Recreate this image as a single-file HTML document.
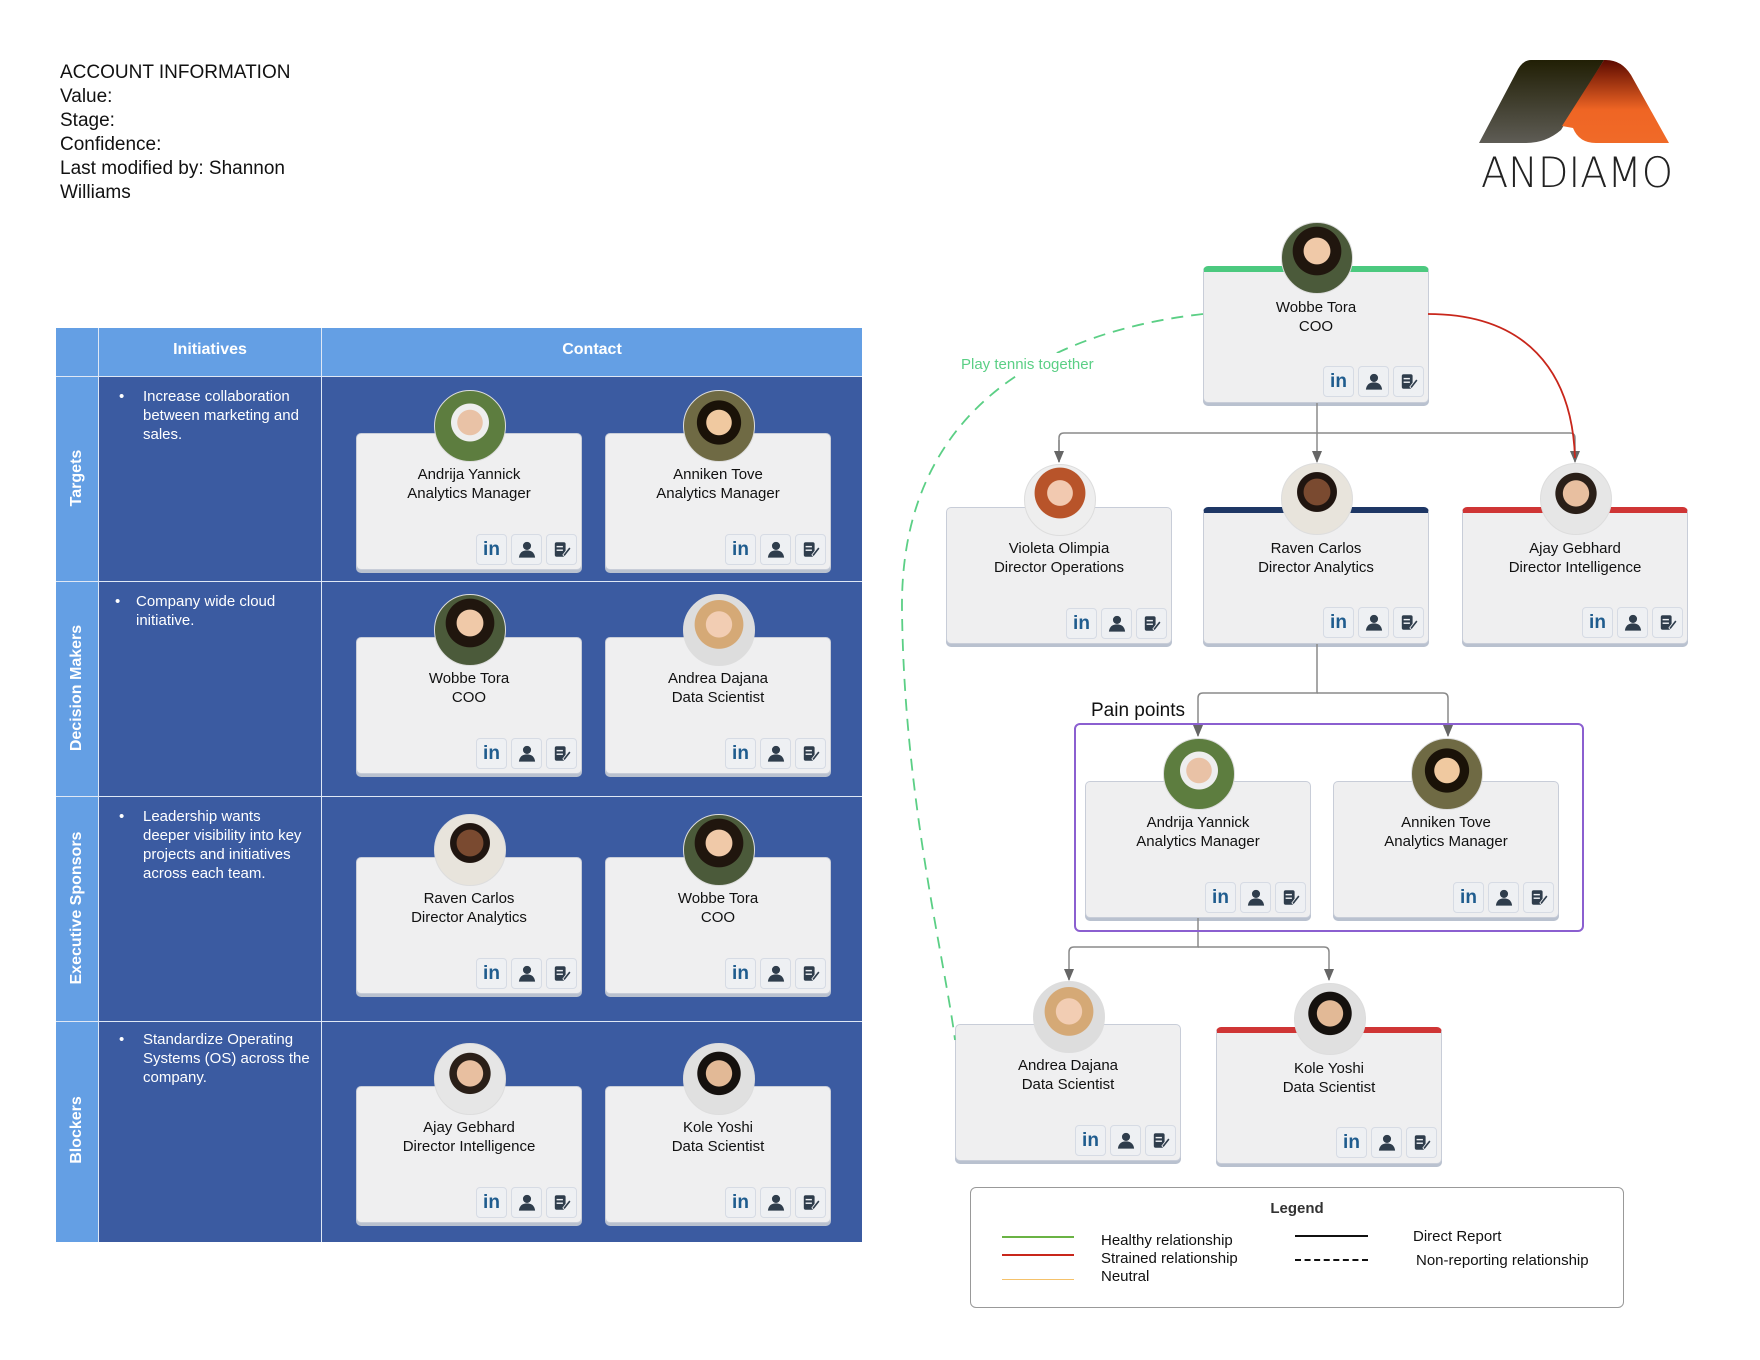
<!DOCTYPE html>
<html><head><meta charset="utf-8"><style>
*{box-sizing:border-box;margin:0;padding:0}
body{width:1760px;height:1360px;background:#fff;position:relative;overflow:hidden;font-family:"Liberation Sans",sans-serif}
.abs{position:absolute}
.card{position:absolute;width:226px;height:137px;background:#efeff0;border:1px solid #c8cdd8;border-radius:5px;box-shadow:0 3px 0 #b9c1cf;text-align:center;font-size:15px;line-height:19px;color:#111;padding-top:31px}
.card.bar{border-top:6px solid}
.av{position:absolute;width:72px;height:72px;border-radius:50%;left:77px;top:-44px;border:1px solid #ddd}
.ic{position:absolute;top:100px;width:31px;height:31px;border:1px solid #d6dbe4;border-radius:4px;background:#eef0f3;font-weight:bold;font-size:19px;line-height:29px;color:#1f5c8e}
.ic svg{margin-top:6px}
.t{color:#fff;font-size:15px;line-height:19px;position:absolute}
.rl{position:absolute;color:#fff;font-weight:bold;font-size:16px;transform:rotate(-90deg);transform-origin:center;white-space:nowrap;width:260px;text-align:center}
</style></head><body>

<div class="abs" style="left:60px;top:61px;font-size:19px;line-height:24px;color:#111">ACCOUNT INFORMATION<br>Value:<br>Stage:<br>Confidence:<br>Last modified by: Shannon<br>Williams</div>

<svg class="abs" style="left:1476px;top:55px" width="224" height="145">
<defs>
<linearGradient id="g1" x1="0" y1="0" x2="0" y2="1"><stop offset="0" stop-color="#211f05"/><stop offset="1" stop-color="#5e5c55"/></linearGradient>
<linearGradient id="g2" x1="0" y1="0" x2="0" y2="1"><stop offset="0" stop-color="#5c0a00"/><stop offset=".6" stop-color="#ef6524"/><stop offset="1" stop-color="#f06a28"/></linearGradient>
</defs>
<path d="M55 5 H128 L85 75 Q70 88 50 88 H3 L40 18 Q46 5 55 5Z" fill="url(#g1)"/>
<path d="M128 5 Q145 4 155 20 L193 88 H120 Q103 88 97 73 L86 71Z" fill="url(#g2)"/>
<text x="5" y="132" font-family="DejaVu Sans, Liberation Sans, sans-serif" font-size="42" font-weight="200" fill="#222" textLength="192" lengthAdjust="spacingAndGlyphs">ANDIAMO</text>
</svg>

<!-- Table -->
<div class="abs" style="left:56px;top:328px;width:806px;height:914px;background:#3b5ba1"></div>
<div class="abs" style="left:56px;top:328px;width:806px;height:48px;background:#649fe4"></div>
<div class="abs" style="left:56px;top:328px;width:42px;height:914px;background:#649fe4"></div>
<div class="abs" style="left:98px;top:328px;width:1px;height:914px;background:#dfe8f5"></div>
<div class="abs" style="left:321px;top:328px;width:1px;height:914px;background:#dfe8f5"></div>
<div class="abs" style="left:56px;top:376px;width:806px;height:1px;background:#dfe8f5"></div>
<div class="abs" style="left:56px;top:581px;width:806px;height:1px;background:#dfe8f5"></div>
<div class="abs" style="left:56px;top:796px;width:806px;height:1px;background:#dfe8f5"></div>
<div class="abs" style="left:56px;top:1021px;width:806px;height:1px;background:#dfe8f5"></div>
<div class="abs" style="left:99px;top:341px;width:222px;text-align:center;color:#fff;font-weight:bold;font-size:16px">Initiatives</div>
<div class="abs" style="left:322px;top:341px;width:540px;text-align:center;color:#fff;font-weight:bold;font-size:16px">Contact</div>
<div class="rl" style="left:-53px;top:469px">Targets</div>
<div class="rl" style="left:-53px;top:679px">Decision Makers</div>
<div class="rl" style="left:-53px;top:899px">Executive Sponsors</div>
<div class="rl" style="left:-53px;top:1121px">Blockers</div>
<div class="t" style="left:119px;top:387px">•</div><div class="t" style="left:143px;top:387px;width:175px">Increase collaboration between marketing and sales.</div>
<div class="t" style="left:115px;top:592px">•</div><div class="t" style="left:136px;top:592px;width:180px">Company wide cloud initiative.</div>
<div class="t" style="left:119px;top:807px">•</div><div class="t" style="left:143px;top:807px;width:165px">Leadership wants deeper visibility into key projects and initiatives across each team.</div>
<div class="t" style="left:119px;top:1030px">•</div><div class="t" style="left:143px;top:1030px;width:178px">Standardize Operating Systems (OS) across the company.</div>

<svg width="0" height="0" style="position:absolute"><defs>
<symbol id="per" viewBox="0 0 20 18"><circle cx="10" cy="5" r="4.5" fill="#2f3d4c"/><path d="M1 18 Q2 10 10 10 Q18 10 19 18Z" fill="#2f3d4c"/></symbol>
<symbol id="cer" viewBox="0 0 20 18"><rect x="2" y="1" width="12" height="16" rx="2" fill="#2f3d4c"/><rect x="4" y="5" width="7" height="1.6" fill="#eef0f3"/><rect x="4" y="9" width="7" height="1.6" fill="#eef0f3"/><path d="M11 15 L18 6 L20 8 L13 17Z" fill="#2f3d4c" stroke="#eef0f3" stroke-width="1"/></symbol>
</defs></svg>

<div id="cards"></div>

<!-- connectors -->
<svg class="abs" style="left:0;top:0" width="1760" height="1360">
<defs><marker id="ar" markerWidth="10" markerHeight="12" refX="5" refY="11" orient="0" markerUnits="userSpaceOnUse" viewBox="0 0 10 12"><path d="M0 0 L10 0 L5 12Z" fill="#666"/></marker></defs>
<g fill="none" stroke="#8a8a8a" stroke-width="1.5">
<path d="M1317 403 V433"/>
<path d="M1059 462 V438 Q1059 433 1064 433 H1570 Q1575 433 1575 438" />
<path d="M1059 440 V462" marker-end="url(#ar)"/>
<path d="M1317 433 V462" marker-end="url(#ar)"/>
<path d="M1575 438 V462" marker-end="url(#ar)"/>
<path d="M1317 644 V693 H1203 Q1198 693 1198 698 V736" marker-end="url(#ar)"/>
<path d="M1317 693 H1443 Q1448 693 1448 698 V736" marker-end="url(#ar)"/>
<path d="M1198 918 V947 H1074 Q1069 947 1069 952 V980" marker-end="url(#ar)"/>
<path d="M1198 947 H1324 Q1329 947 1329 952 V980" marker-end="url(#ar)"/>
</g>
<path d="M1428 314 C1525 314 1572 370 1575 458" fill="none" stroke="#c8261b" stroke-width="1.8"/>
<path d="M1203 314 C1060 330 900 400 902 609 C904 800 945 960 955 1040" fill="none" stroke="#5bcf85" stroke-width="1.8" stroke-dasharray="12 8"/>
<rect x="958" y="353" width="146" height="22" fill="#fff"/>
<text x="961" y="369" font-size="15" fill="#5bcf85" font-family="Liberation Sans,sans-serif">Play tennis together</text>
<rect x="1075" y="724" width="508" height="207" rx="5" fill="none" stroke="#8b5fd0" stroke-width="2"/>
<text x="1091" y="716" font-size="19" fill="#111" font-family="Liberation Sans,sans-serif">Pain points</text>
</svg>

<!-- legend -->
<div class="abs" style="left:970px;top:1187px;width:654px;height:121px;border:1px solid #999;border-radius:6px"></div>
<div class="abs" style="left:970px;top:1200px;width:654px;text-align:center;font-weight:bold;font-size:15px;color:#333">Legend</div>
<div class="abs" style="left:1002px;top:1236px;width:72px;height:2px;background:#6ab344"></div>
<div class="abs" style="left:1002px;top:1254px;width:72px;height:2px;background:#c8261b"></div>
<div class="abs" style="left:1002px;top:1279px;width:72px;height:1px;background:#f5c26b"></div>
<div class="abs" style="left:1101px;top:1232px;font-size:15px;line-height:18px;color:#111">Healthy relationship<br>Strained relationship<br>Neutral</div>
<div class="abs" style="left:1295px;top:1235px;width:73px;height:2px;background:#111"></div>
<div class="abs" style="left:1295px;top:1259px;width:73px;height:0;border-top:2px dashed #111"></div>
<div class="abs" style="left:1413px;top:1228px;font-size:15px;color:#111">Direct Report</div>
<div class="abs" style="left:1416px;top:1252px;font-size:15px;color:#111">Non-reporting relationship</div>

<script>
var P={
 a:'radial-gradient(circle at 50% 45%,#e9c2a6 0 24%,#eee 25% 36%,#5d7d3f 37%)',
 t:'radial-gradient(circle at 50% 45%,#f0c9a0 0 24%,#1a1208 25% 42%,#6f6a44 43%)',
 w:'radial-gradient(circle at 50% 40%,#f0c9a8 0 24%,#20160e 25% 44%,#4b5a3a 45%)',
 d:'radial-gradient(circle at 50% 42%,#f2cdb3 0 24%,#d5a976 25% 45%,#ddd 46%)',
 v:'radial-gradient(circle at 50% 40%,#f2c9b0 0 23%,#b8542a 24% 46%,#eee 47%)',
 r:'radial-gradient(circle at 50% 40%,#7a4a30 0 24%,#201510 25% 36%,#e8e4dc 37%)',
 g:'radial-gradient(circle at 50% 42%,#e8bfa0 0 24%,#2a1f18 25% 38%,#e6e6e6 39%)',
 k:'radial-gradient(circle at 50% 42%,#e2b996 0 24%,#15110e 25% 40%,#e0e0e0 41%)'
};
var C=[
 [356,433,'Andrija Yannick','Analytics Manager','a'],[605,433,'Anniken Tove','Analytics Manager','t'],
 [356,637,'Wobbe Tora','COO','w'],[605,637,'Andrea Dajana','Data Scientist','d'],
 [356,857,'Raven Carlos','Director Analytics','r'],[605,857,'Wobbe Tora','COO','w'],
 [356,1086,'Ajay Gebhard','Director Intelligence','g'],[605,1086,'Kole Yoshi','Data Scientist','k'],
 [1203,266,'Wobbe Tora','COO','w','#4cc97f'],
 [946,507,'Violeta Olimpia','Director Operations','v'],[1203,507,'Raven Carlos','Director Analytics','r','#1e3765'],[1462,507,'Ajay Gebhard','Director Intelligence','g','#cf3535'],
 [1085,781,'Andrija Yannick','Analytics Manager','a'],[1333,781,'Anniken Tove','Analytics Manager','t'],
 [955,1024,'Andrea Dajana','Data Scientist','d'],[1216,1027,'Kole Yoshi','Data Scientist','k','#cf3535']
];
var h='';
C.forEach(function(c){
 var bar=c[5]?' bar" style="left:'+c[0]+'px;top:'+c[1]+'px;border-top-color:'+c[5]+';padding-top:26px':'" style="left:'+c[0]+'px;top:'+c[1]+'px';
 var off=c[5]?'-50px':'-44px';
 var it=c[5]?'94px':'100px';
 h+='<div class="card'+bar+'"><div class="av" style="background:'+P[c[4]]+';top:'+off+'"></div>'+c[2]+'<br>'+c[3]+
 '<div class="ic" style="left:119px;top:'+it+'">in</div>'+
 '<div class="ic" style="left:154px;top:'+it+'"><svg width="18" height="17"><use href="#per"/></svg></div>'+
 '<div class="ic" style="left:189px;top:'+it+'"><svg width="18" height="17"><use href="#cer"/></svg></div></div>';
});
document.getElementById('cards').innerHTML=h;
</script>
</body></html>
